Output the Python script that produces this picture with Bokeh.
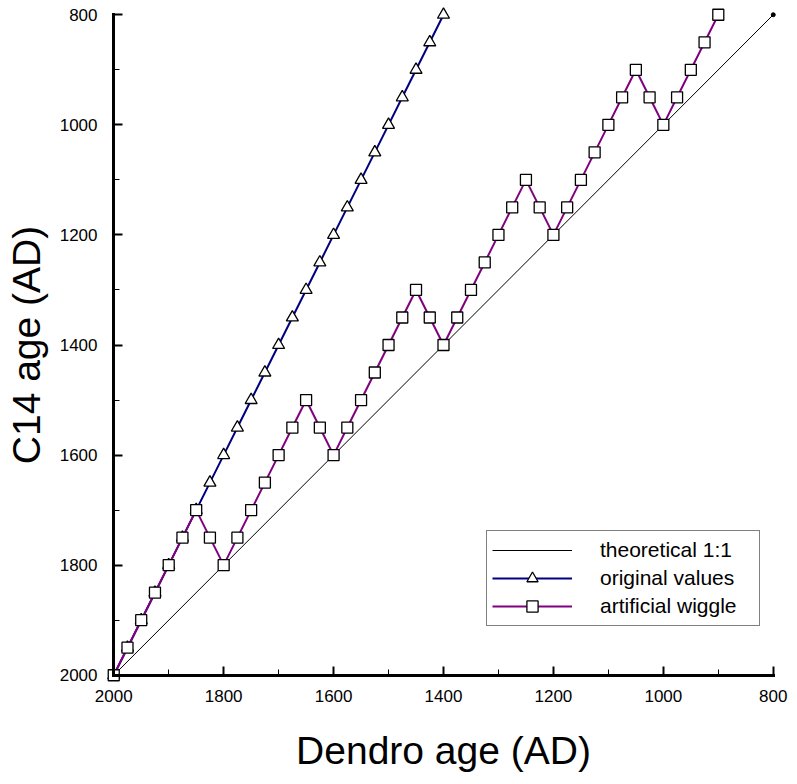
import math
from bokeh.plotting import figure
from bokeh.models import (Range1d, LinearAxis, SingleIntervalTicker, Legend,
                          LegendItem)
from bokeh.embed import file_html
from bokeh.resources import INLINE

# ---------------- data ----------------
dendro_theory = [2000, 800]
c14_theory = [2000, 800]

dendro_orig = [2000, 1975, 1950, 1925, 1900, 1875, 1850, 1825, 1800, 1775,
               1750, 1725, 1700, 1675, 1650, 1625, 1600, 1575, 1550, 1525,
               1500, 1475, 1450, 1425, 1400]
c14_orig = [2000, 1950, 1900, 1850, 1800, 1750, 1700, 1650, 1600, 1550,
            1500, 1450, 1400, 1350, 1300, 1250, 1200, 1150, 1100, 1050,
            1000, 950, 900, 850, 800]

dendro_wiggle = [2000, 1975, 1950, 1925, 1900, 1875, 1850, 1825, 1800, 1775,
                 1750, 1725, 1700, 1675, 1650, 1625, 1600, 1575, 1550, 1525,
                 1500, 1475, 1450, 1425, 1400, 1375, 1350, 1325, 1300, 1275,
                 1250, 1225, 1200, 1175, 1150, 1125, 1100, 1075, 1050, 1025,
                 1000, 975, 950, 925, 900]
c14_wiggle = [2000, 1950, 1900, 1850, 1800, 1750, 1700, 1750, 1800, 1750,
              1700, 1650, 1600, 1550, 1500, 1550, 1600, 1550, 1500, 1450,
              1400, 1350, 1300, 1350, 1400, 1350, 1300, 1250, 1200, 1150,
              1100, 1150, 1200, 1150, 1100, 1050, 1000, 950, 900, 950,
              1000, 950, 900, 850, 800]

series_labels = ["theoretical 1:1", "original values", "artificial wiggle"]
x_title = "Dendro age (AD)"
y_title = "C14 age (AD)"
axis_min, axis_max, tick_step = 800, 2000, 200

# ---------------- layout ----------------
W, H = 797, 784
B_LEFT, B_RIGHT, B_TOP, B_BOTTOM = 105, 16, 6, 101
PAD = 15
x0, x1 = axis_max + PAD, axis_min - PAD
y0, y1 = axis_max + PAD, axis_min - PAD

FONT = "Liberation Sans"

p = figure(width=W, height=H, output_backend="svg", toolbar_location=None,
           x_range=Range1d(x0, x1), y_range=Range1d(y0, y1),
           x_axis_type=None, y_axis_type=None,
           min_border_left=B_LEFT, min_border_right=B_RIGHT,
           min_border_top=B_TOP, min_border_bottom=B_BOTTOM)
p.outline_line_color = None
p.background_fill_color = "white"
p.border_fill_color = "white"


def ticker():
    return SingleIntervalTicker(interval=tick_step, num_minor_ticks=2)


# --- axes drawn exactly at the data corner (line + ticks only) ---
def style_rule_axis(ax):
    ax.axis_line_width = 3
    ax.axis_line_color = "black"
    ax.axis_line_cap = "square"
    ax.major_tick_in = 9
    ax.major_tick_out = 0
    ax.major_tick_line_width = 2
    ax.major_tick_line_color = "black"
    ax.minor_tick_in = 6
    ax.minor_tick_out = 0
    ax.minor_tick_line_width = 1
    ax.minor_tick_line_color = "black"
    ax.major_label_text_color = None


rule_x = LinearAxis(fixed_location=axis_max, bounds=(axis_min, axis_max), ticker=ticker())
rule_y = LinearAxis(fixed_location=axis_max, bounds=(axis_min, axis_max), ticker=ticker())
style_rule_axis(rule_x)
style_rule_axis(rule_y)


# --- axes at the frame edge carrying tick labels and titles ---
def style_label_axis(ax, standoff, title_standoff):
    ax.axis_line_color = None
    ax.major_tick_line_color = None
    ax.minor_tick_line_color = None
    ax.major_tick_in = 0
    ax.major_tick_out = 0
    ax.minor_tick_in = 0
    ax.minor_tick_out = 0
    ax.major_label_text_font = FONT
    ax.major_label_text_font_size = "17px"
    ax.major_label_text_color = "black"
    ax.major_label_standoff = standoff
    ax.axis_label_text_font = FONT
    ax.axis_label_text_font_size = "39px"
    ax.axis_label_text_font_style = "normal"
    ax.axis_label_text_color = "black"
    ax.axis_label_standoff = title_standoff


lab_x = LinearAxis(bounds=(axis_min, axis_max), ticker=ticker(), axis_label=x_title)
lab_y = LinearAxis(bounds=(axis_min, axis_max), ticker=ticker(), axis_label=y_title)
style_label_axis(lab_x, 6, 24)
style_label_axis(lab_y, 8, 9)

p.add_layout(lab_x, "below")
p.add_layout(lab_y, "left")
p.add_layout(rule_x, "below")
p.add_layout(rule_y, "left")

# ---------------- series ----------------
r_t_line = p.line(dendro_theory, c14_theory, line_color="black", line_width=1)
r_t_pts = p.scatter(dendro_theory, c14_theory, marker="circle", size=4,
                    fill_color="black", line_color="black")

r_o_line = p.line(dendro_orig, c14_orig, line_color="#000080", line_width=2)
r_o_pts = p.scatter(dendro_orig, c14_orig, marker="triangle", size=12,
                    fill_color="white", line_color="black", line_width=1.3)

r_w_line = p.line(dendro_wiggle, c14_wiggle, line_color="#800080", line_width=2)
r_w_pts = p.scatter(dendro_wiggle, c14_wiggle, marker="square", size=11,
                    fill_color="white", line_color="black", line_width=1.3)

legend = Legend(items=[
    LegendItem(label=series_labels[0], renderers=[r_t_line]),
    LegendItem(label=series_labels[1], renderers=[r_o_line, r_o_pts]),
    LegendItem(label=series_labels[2], renderers=[r_w_line, r_w_pts]),
], location=(381, 57))
legend.border_line_color = "black"
legend.border_line_width = 1
legend.background_fill_color = "white"
legend.background_fill_alpha = 1
legend.label_text_font = FONT
legend.label_text_font_size = "21px"
legend.label_text_color = "black"
legend.glyph_width = 80
legend.glyph_height = 28
legend.label_height = 28
legend.label_width = 154
legend.label_standoff = 28
legend.spacing = -1
legend.padding = 5
legend.margin = 0
p.add_layout(legend)

open("out.html", "w").write(file_html(p, INLINE))
